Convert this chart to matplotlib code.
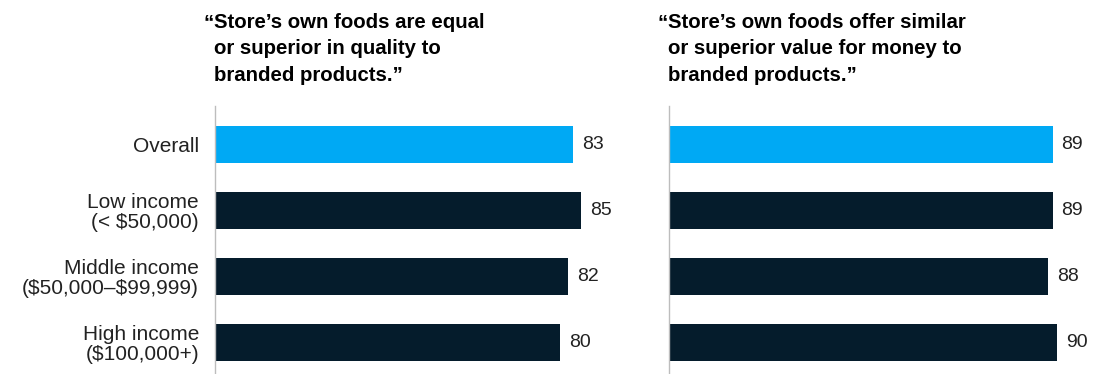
import matplotlib
matplotlib.use("Agg")
import matplotlib.pyplot as plt

plt.rcParams["text.parse_math"] = False

categories = ["Overall", "Low income\n(< $50,000)", "Middle income\n($50,000–$99,999)", "High income\n($100,000+)"]
quality_values = [83, 85, 82, 80]
value_values = [89, 89, 88, 90]
title_left = ["Store’s own foods are equal", "or superior in quality to", "branded products.”"]
title_right = ["Store’s own foods offer similar", "or superior value for money to", "branded products.”"]

BLUE = "#00A9F4"
NAVY = "#051C2C"
TEXT = "#222222"
FONT = "Liberation Sans"

W, H = 1099, 374
fig = plt.figure(figsize=(W / 100, H / 100), dpi=100)

ax_top_px, ax_bot_px = 106, 374
axes_specs = [(215, quality_values, title_left, True), (669, value_values, title_right, False)]
ypos = list(range(len(categories)))
colors = [BLUE] + [NAVY] * (len(categories) - 1)

for left_px, vals, title, show_labels in axes_specs:
    ax = fig.add_axes([left_px / W, 0, 431 / W, (ax_bot_px - ax_top_px) / H])
    ax.barh(ypos, vals, height=0.555, color=colors)
    ax.set_xlim(0, 100)
    ax.set_ylim(3.477, -0.58)
    for s in ["top", "right", "bottom"]:
        ax.spines[s].set_visible(False)
    ax.spines["left"].set_color("#BDBDBD")
    ax.spines["left"].set_linewidth(1.0)
    ax.set_xticks([])
    ax.set_yticks(ypos)
    if show_labels:
        ax.set_yticklabels(categories, fontsize=15, color=TEXT, family=FONT,
                           linespacing=1.02, ha="right")
    else:
        ax.set_yticklabels([])
    ax.tick_params(axis="y", length=0, pad=11.5)
    for y, v in zip(ypos, vals):
        ax.annotate(f"{v}", xy=(v, y), xytext=(6.5, 0), textcoords="offset points",
                    va="center", ha="left", fontsize=14, color=TEXT, family=FONT)
    # title with hanging quote
    x_fig = (left_px - 1) / W
    baselines = [28, 54.5, 81]
    fig.text(x_fig, 1 - baselines[0] / H, "“", ha="right", va="baseline",
             fontsize=14.7, fontweight="bold", color="#000000", family=FONT)
    for line, b in zip(title, baselines):
        fig.text(x_fig, 1 - b / H, line, ha="left", va="baseline",
                 fontsize=14.7, fontweight="bold", color="#000000", family=FONT)

fig.savefig("out.png", dpi=100)
